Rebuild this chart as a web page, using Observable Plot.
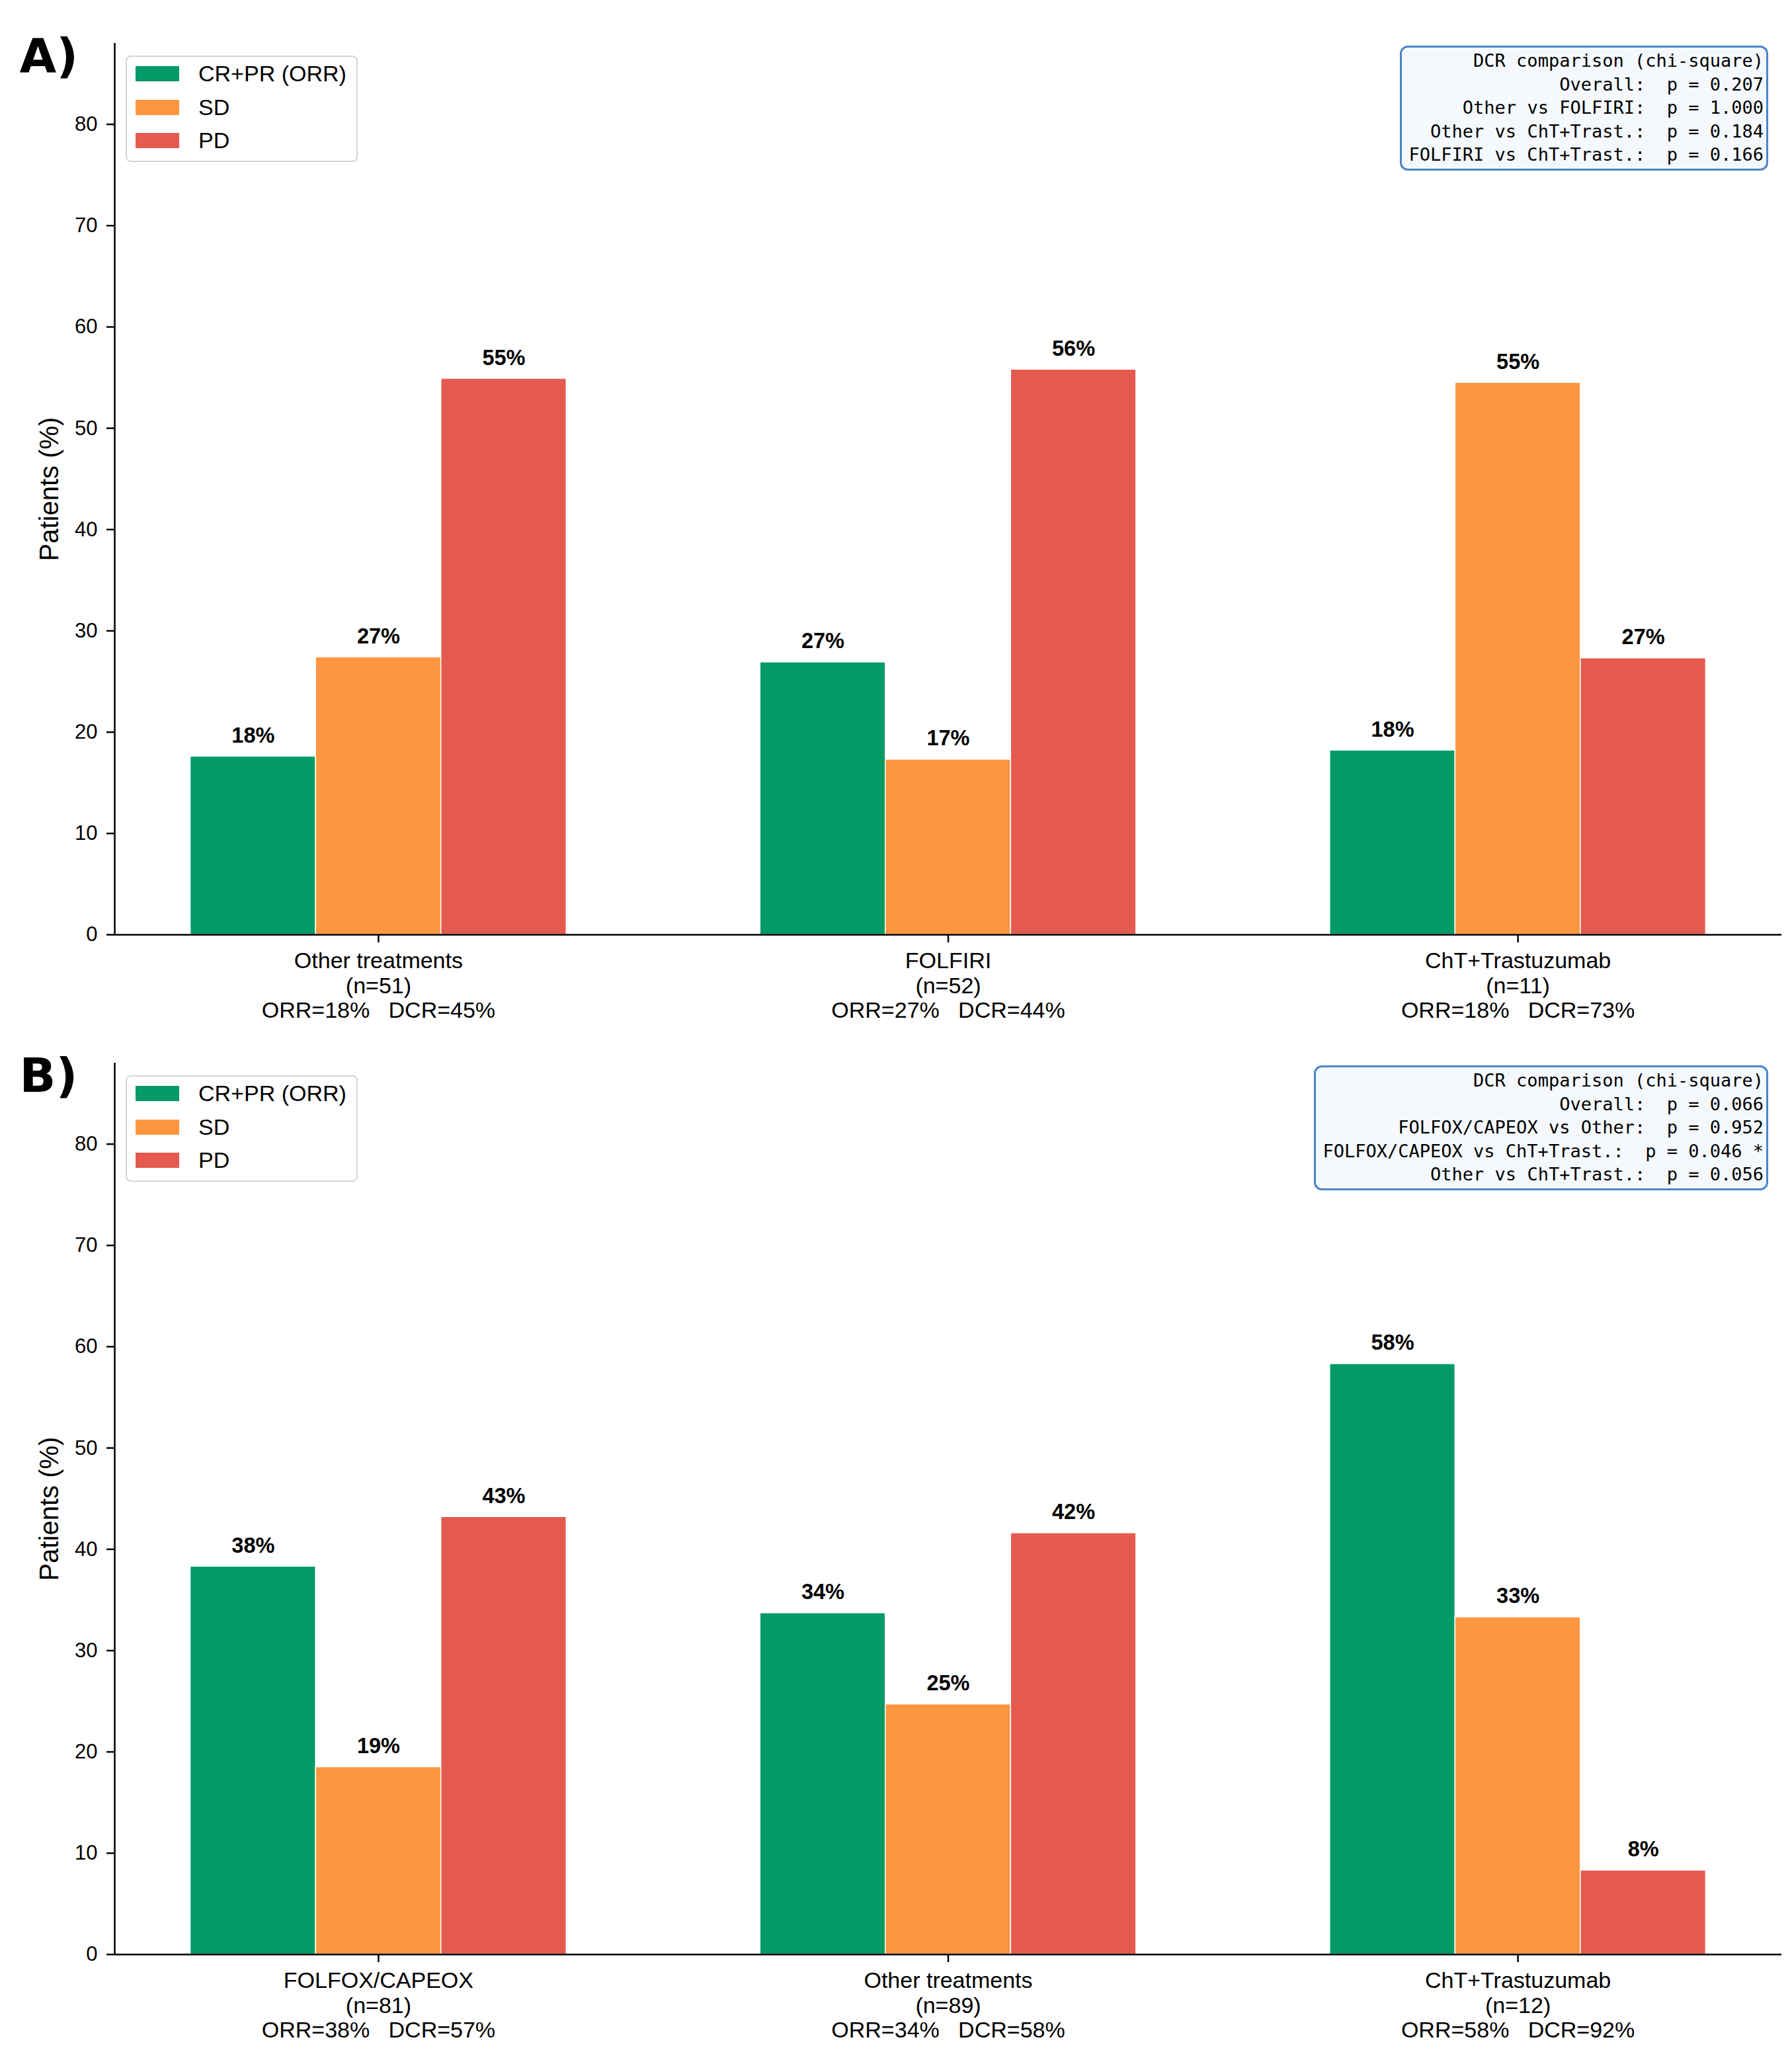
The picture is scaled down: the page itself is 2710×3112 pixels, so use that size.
<!DOCTYPE html>
<html>
<head>
<meta charset="utf-8">
<script src="https://cdn.jsdelivr.net/npm/d3@7"></script>
<script src="https://cdn.jsdelivr.net/npm/@observablehq/plot@0.6"></script>
<style>
  body { margin: 0; background: #fff; }
  #root { position: relative; width: 2710px; }
  .panel { position: relative; width: 2710px; height: 1542px; }
  .panel svg { overflow: visible; }
  .panel svg text { white-space: pre; }
  .legend { position: absolute; left: 190px; top: 84px; width: 351px; height: 161px; box-sizing: border-box;
            border: 2px solid #d4d4d4; border-radius: 8px; background: rgba(255,255,255,0.85);
            font-family: "Liberation Sans", Arial, sans-serif; font-size: 34px; color: #000; }
  .legend .sw { position: absolute; left: 13px; width: 66px; height: 23px; }
  .legend .lb { position: absolute; left: 108px; line-height: 38px; white-space: pre; }
  .stats { position: absolute; right: 36px; top: 69px; box-sizing: border-box;
           border: 3px solid #4a86c8; border-radius: 12px; background: #f5f9fe;
           font-family: "DejaVu Sans Mono", monospace; font-size: 27px; line-height: 35.5px;
           white-space: pre; text-align: right; padding: 2px 4px 3px 11px; color: #000; }
</style>
</head>
<body>
<div id="root"></div>
<script>
// ---------- data ----------
const series = ["CR+PR (ORR)", "SD", "PD"];
const colors = ["#029a65", "#fd9640", "#e55a4f"];
const yTicks = [0, 10, 20, 30, 40, 50, 60, 70, 80];
const yDomain = [0, 88];
const xDomain = [-0.463, 2.463];

const groupsA = ["Other treatments", "FOLFIRI", "ChT+Trastuzumab"];
const nA = [51, 52, 11];
const orrA = [17.6, 26.9, 18.2];
const sdA = [27.4, 17.3, 54.5];
const pdA = [54.9, 55.8, 27.3];
const statsA = [
  "DCR comparison (chi-square)",
  "Overall:  p = 0.207",
  "Other vs FOLFIRI:  p = 1.000",
  "Other vs ChT+Trast.:  p = 0.184",
  "FOLFIRI vs ChT+Trast.:  p = 0.166"
];

const groupsB = ["FOLFOX/CAPEOX", "Other treatments", "ChT+Trastuzumab"];
const nB = [81, 89, 12];
const orrB = [38.3, 33.7, 58.3];
const sdB = [18.5, 24.7, 33.3];
const pdB = [43.2, 41.6, 8.3];
const statsB = [
  "DCR comparison (chi-square)",
  "Overall:  p = 0.066",
  "FOLFOX/CAPEOX vs Other:  p = 0.952",
  "FOLFOX/CAPEOX vs ChT+Trast.:  p = 0.046 *",
  "Other vs ChT+Trast.:  p = 0.056"
];

const BW = 0.22; // bar width in group units
const fmt = d3.format(".0f");
const FONT = "Liberation Sans, Arial, Helvetica, sans-serif";

function panel(letter, groups, n, orr, sd, pd, stats) {
  const vals = [orr, sd, pd];
  const data = groups.flatMap((g, i) => series.map((s, k) => ({g, i, k, s, v: vals[k][i]})));
  const labels = groups.map((g, i) =>
    `${g}\n(n=${n[i]})\nORR=${fmt(orr[i])}%   DCR=${fmt(orr[i] + sd[i])}%`);

  const svg = Plot.plot({
    width: 2710,
    height: 1542,
    marginLeft: 173,
    marginRight: 16,
    marginTop: 65,
    marginBottom: 129,
    style: {fontFamily: FONT, background: "white", color: "black", overflow: "visible"},
    x: {type: "linear", domain: xDomain, axis: null},
    y: {domain: yDomain, axis: null},
    color: {domain: series, range: colors},
    marks: [
      Plot.rectY(data, {
        x1: d => d.i + (d.k - 1.5) * BW,
        x2: d => d.i + (d.k - 0.5) * BW,
        y: "v",
        fill: "s",
        stroke: "white",
        strokeWidth: 1.5
      }),
      Plot.text(data, {
        x: d => d.i + (d.k - 1) * BW,
        y: "v",
        text: d => fmt(d.v) + "%",
        lineAnchor: "bottom",
        dy: -21,
        fontWeight: "bold",
        fontSize: 32.5,
        fill: "black"
      }),
      Plot.axisY({ticks: yTicks, tickSize: 12, tickPadding: 14, fontSize: 31, strokeWidth: 2.5, label: null}),
      Plot.axisX({ticks: [0, 1, 2], tickSize: 12, tickFormat: () => "", strokeWidth: 2.5, label: null}),
      Plot.text(labels, {
        x: (d, i) => i,
        frameAnchor: "bottom",
        dy: 24,
        lineAnchor: "top",
        lineHeight: 1.105,
        fontSize: 34,
        fill: "black",
        text: d => d
      }),
      Plot.ruleY([yDomain[0]], {stroke: "black", strokeWidth: 2.5}),
      Plot.ruleX([xDomain[0]], {stroke: "black", strokeWidth: 2.5}),
      Plot.text(["Patients (%)"], {
        frameAnchor: "left",
        textAnchor: "middle",
        lineAnchor: "middle",
        rotate: -90,
        dx: -98,
        fontSize: 40,
        fill: "black",
        text: d => d
      }),
      Plot.text([letter], {
        frameAnchor: "top-left",
        textAnchor: "start",
        lineAnchor: "bottom",
        dx: -144,
        dy: 43,
        fontSize: 72,
        fontFamily: "DejaVu Sans",
        fontWeight: "bold",
        fill: "black",
        text: d => d
      })
    ]
  });

  const wrap = document.createElement("div");
  wrap.className = "panel";
  wrap.appendChild(svg);

  const lg = document.createElement("div");
  lg.className = "legend";
  series.forEach((s, k) => {
    const sw = document.createElement("div");
    sw.className = "sw";
    sw.style.top = (14 + k * 50.5) + "px";
    sw.style.background = colors[k];
    lg.appendChild(sw);
    const lb = document.createElement("div");
    lb.className = "lb";
    lb.style.top = (6 + k * 50.5) + "px";
    lb.textContent = s;
    lg.appendChild(lb);
  });
  wrap.appendChild(lg);

  const st = document.createElement("div");
  st.className = "stats";
  st.textContent = stats.join("\n");
  wrap.appendChild(st);

  return wrap;
}

const root = document.getElementById("root");
root.appendChild(panel("A)", groupsA, nA, orrA, sdA, pdA, statsA));
root.appendChild(panel("B)", groupsB, nB, orrB, sdB, pdB, statsB));
</script>
</body>
</html>
